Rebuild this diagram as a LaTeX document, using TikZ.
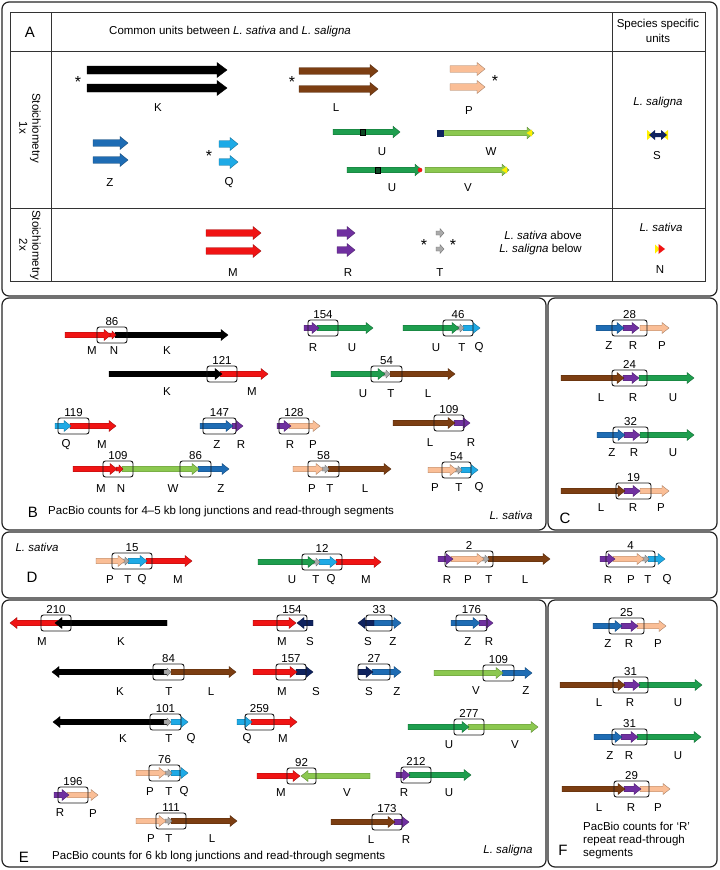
\documentclass[tikz,border=0pt]{standalone}
\usepackage{fontspec}
\setmainfont{Liberation Sans}
\definecolor{cK}{RGB}{0,0,0}
\definecolor{cL}{RGB}{124,62,18}
\definecolor{cP}{RGB}{250,190,150}
\definecolor{cZ}{RGB}{30,108,180}
\definecolor{cQ}{RGB}{30,170,230}
\definecolor{cU}{RGB}{30,158,78}
\definecolor{cV}{RGB}{140,200,80}
\definecolor{cM}{RGB}{240,20,20}
\definecolor{cR}{RGB}{112,48,160}
\definecolor{cT}{RGB}{170,170,170}
\definecolor{cS}{RGB}{15,35,95}
\definecolor{cY}{RGB}{255,240,0}
\newcounter{nn}
\def\sh{2.8}\def\hh{5.5}\def\hl{7}
\newcommand\barr[4]{%
 \pgfmathsetmacro\bdir{(#2>#1)?1:-1}%
 \pgfmathsetmacro\bhx{#2-\bdir*\hl}%
 \draw[fill=#4,draw=#4!65!black,line width=0.35pt,line join=miter] (#1,#3-\sh) -- (\bhx,#3-\sh) -- (\bhx,#3-\hh) -- (#2,#3) -- (\bhx,#3+\hh) -- (\bhx,#3+\sh) -- (#1,#3+\sh) -- cycle;}
\newcommand\tarr[2]{\begingroup\def\sh{2}\def\hh{4}\def\hl{4}\barr{#1}{#1+7}{#2}{cT}\endgroup}
\newcommand\narr[2]{\begingroup\def\sh{2}\def\hh{4.2}\def\hl{4}\barr{#1}{#1+7}{#2}{cM}\endgroup}
\newcommand\lab[3]{\stepcounter{nn}\node[lab] (t\thenn) at (#1,#2) {#3};}
\newcommand\jb[4]{\stepcounter{nn}\draw[jbox] (#1,#3-8) rectangle (#2,#3+8);
 \node[lab,anchor=south] (c\thenn) at ({(#1+#2)/2},#3-9.3) {#4};}
\tikzset{
 lab/.style={font=\fontsize{11.5}{13}\selectfont,inner sep=0pt},
 big/.style={font=\fontsize{15}{17}\selectfont,inner sep=0pt},
 jbox/.style={draw=black!90,line width=0.9pt,rounded corners=2.5pt},
 panel/.style={draw=black!85,line width=1.2pt,rounded corners=7pt},
 grid/.style={draw=black!80,line width=0.9pt}
}
\begin{document}
\begin{tikzpicture}[x=1pt,y=-1pt]
\useasboundingbox[fill=white] (0,0) rectangle (720,870);
% panels
\draw[panel] (2,2) rectangle (717,296);
\draw[panel] (2,298) rectangle (546,530);
\draw[panel] (548,298) rectangle (717,530);
\draw[panel] (2,532) rectangle (717,598);
\draw[panel] (2,600) rectangle (546,867);
\draw[panel] (548,600) rectangle (717,867);
% ===== Panel A table
\draw[grid] (10,12) rectangle (705,281);
\draw[grid] (10,51) -- (705,51);
\draw[grid] (10,208) -- (705,208);
\draw[grid] (51,12) -- (51,281);
\draw[grid] (612,12) -- (612,281);
\node[big] (pA) at (30,32) {A};
\node[lab,anchor=west] (hdr) at (109,32) {Common units between \textit{L. sativa} and \textit{L. saligna}};
\node[lab,align=center] (hdr2) at (658,31) {Species specific\\[2pt]units};
\node[lab,align=center,rotate=-90] (row1) at (30,128) {Stoichiometry\\1x};
\node[lab,align=center,rotate=-90] (row2) at (30,245) {Stoichiometry\\2x};
% K L P
\begingroup\def\sh{4}\def\hh{7.5}\def\hl{10}
\barr{87}{227}{70}{cK}\barr{87}{227}{88}{cK}
\endgroup
\begingroup\def\sh{3.3}\def\hh{6.5}\def\hl{8}
\barr{299}{378}{71}{cL}\barr{299}{378}{89}{cL}
\barr{450}{485}{69}{cP}\barr{450}{485}{87}{cP}
\barr{93}{128}{143}{cZ}\barr{93}{128}{160}{cZ}
\barr{219}{238}{144}{cQ}\barr{219}{238}{162}{cQ}
\barr{206}{261}{233}{cM}\barr{206}{261}{251}{cM}
\barr{337}{355}{233}{cR}\barr{337}{355}{250}{cR}
\endgroup
\begingroup\def\sh{2.8}\def\hh{5.8}\def\hl{7}
\barr{333}{400}{132}{cU}
\barr{438}{534}{133}{cV}
\barr{347}{422}{170}{cU}
\barr{425}{509}{170}{cV}
\endgroup
\draw[fill=cU!45!black,line width=0.3pt] (360,129) rectangle (365,135.5);
\draw[fill=cU!45!black,line width=0.3pt] (375,167) rectangle (380,173.5);
\fill[cS] (437,129.5) rectangle (444,136.5);
\fill[cY] (526.5,133) -- (532,129.5) -- (532,136.5) -- cycle;
\fill[cY] (501.5,170) -- (507,166.5) -- (507,173.5) -- cycle;
\fill[cM] (420,170) circle (2.3);
\begingroup\def\sh{2}\def\hh{4.5}\def\hl{4}
\barr{436}{444}{233}{cT}\barr{436}{444}{249}{cT}
\endgroup
% S symbol
\fill[cY] (647,130) -- (647,140) -- (653,135) -- cycle;
\fill[cY] (668,130) -- (668,140) -- (662,135) -- cycle;
\fill[cS] (649,135) -- (655,130) -- (655,133) -- (661,133) -- (661,130) -- (667,135) -- (661,140) -- (661,137) -- (655,137) -- (655,140) -- cycle;
% N symbol
\fill[cY] (655,244.5) -- (655,253.5) -- (660,249) -- cycle;
\fill[cM] (658.5,244) -- (665,249) -- (658.5,254) -- cycle;
% asterisks
\lab{78}{82}{\fontsize{16}{16}\selectfont *}
\lab{292}{82}{\fontsize{16}{16}\selectfont *}
\lab{495}{81}{\fontsize{16}{16}\selectfont *}
\lab{209}{156}{\fontsize{16}{16}\selectfont *}
\lab{424}{245}{\fontsize{16}{16}\selectfont *}
\lab{453}{245}{\fontsize{16}{16}\selectfont *}
% A labels
\lab{158}{108}{K}\lab{336}{108}{L}\lab{469}{111}{P}
\lab{110}{183}{Z}\lab{229}{183}{Q}
\lab{382}{152}{U}\lab{491}{152}{W}
\lab{392}{188}{U}\lab{468}{188}{V}
\lab{233}{273}{M}\lab{348}{273}{R}\lab{440}{273}{T}
\lab{658}{103}{\textit{L. saligna}}\lab{657}{156}{S}
\lab{661}{227}{\textit{L. sativa}}\lab{660}{270}{N}
\node[lab,anchor=east] (abv) at (582,235) {\textit{L. sativa} above};
\node[lab,anchor=east] (blw) at (582,250) {\textit{L. saligna} below};
% ===== Panel B
\barr{115}{228}{335}{cK}\narr{109}{335}\barr{65}{111}{335}{cM}
\jb{97}{127}{335}{86}
\lab{92}{351}{M}\lab{114}{351}{N}\lab{167}{351}{K}
\barr{220}{268}{374}{cM}\barr{109}{222}{374}{cK}
\jb{207}{237}{374}{121}
\lab{167}{392}{K}\lab{252}{392}{M}
\barr{317}{373}{328}{cU}\barr{304}{319}{328}{cR}
\jb{308}{338}{328}{154}
\lab{313}{348}{R}\lab{352}{348}{U}
\barr{463}{480}{328}{cQ}\tarr{457}{328}\barr{403}{459}{328}{cU}
\jb{443}{473}{328}{46}
\lab{436}{348}{U}\lab{462}{348}{T}\lab{479}{348}{Q}
\barr{390}{455}{374}{cL}\tarr{383}{374}\barr{331}{385}{374}{cU}
\jb{371}{402}{374}{54}
\lab{363}{394}{U}\lab{391}{394}{T}\lab{428}{394}{L}
\barr{70}{116}{426}{cM}\barr{55}{71}{426}{cQ}
\jb{58}{89}{426}{119}
\lab{66}{445}{Q}\lab{102}{445}{M}
\barr{232}{243}{426}{cR}\barr{200}{233}{426}{cZ}
\jb{203}{236}{426}{147}
\lab{217}{445}{Z}\lab{241}{445}{R}
\barr{289}{320}{426}{cP}\barr{277}{291}{426}{cR}
\jb{279}{309}{426}{128}
\lab{290}{445}{R}\lab{313}{445}{P}
\barr{454}{470}{423}{cR}\barr{393}{455}{423}{cL}
\jb{434}{464}{423}{109}
\lab{430}{443}{L}\lab{471}{443}{R}
\barr{198}{229}{469}{cZ}\barr{122}{199}{469}{cV}\narr{116}{469}\barr{73}{117}{469}{cM}
\jb{103}{133}{469}{109}\jb{180}{211}{469}{86}
\lab{101}{489}{M}\lab{121}{489}{N}\lab{173}{489}{W}\lab{221}{489}{Z}
\barr{328}{391}{469}{cL}\tarr{322}{469}\barr{293}{323}{469}{cP}
\jb{308}{339}{469}{58}
\lab{312}{489}{P}\lab{330}{489}{T}\lab{365}{489}{L}
\barr{461}{478}{470}{cQ}\tarr{455}{470}\barr{428}{457}{470}{cP}
\jb{442}{471}{470}{54}
\lab{435}{488}{P}\lab{459}{488}{T}\lab{479}{488}{Q}
\node[big] (pB) at (33,512) {B};
\node[lab,anchor=west] (capB) at (48,512) {PacBio counts for 4–5 kb long junctions and read-through segments};
\lab{511}{515}{\textit{L. sativa}}
% ===== Panel C
\barr{640}{669}{328}{cP}\barr{623}{639}{328}{cR}\barr{596}{624}{328}{cZ}
\jb{612}{647}{328}{28}
\lab{609}{346}{Z}\lab{633}{346}{R}\lab{662}{346}{P}
\barr{639}{694}{378}{cU}\barr{623}{639}{378}{cR}\barr{561}{624}{378}{cL}
\jb{612}{647}{378}{24}
\lab{601}{398}{L}\lab{633}{398}{R}\lab{673}{398}{U}
\barr{640}{694}{435}{cU}\barr{624}{640}{435}{cR}\barr{597}{625}{435}{cZ}
\jb{613}{648}{435}{32}
\lab{612}{453}{Z}\lab{634}{453}{R}\lab{673}{453}{U}
\barr{640}{669}{491}{cP}\barr{624}{640}{491}{cR}\barr{561}{625}{491}{cL}
\jb{616}{651}{491}{19}
\lab{601}{508}{L}\lab{633}{508}{R}\lab{661}{508}{P}
\node[big] (pC) at (565,518) {C};
% ===== Panel D
\lab{37}{547}{\textit{L. sativa}}
\node[big] (pD) at (32,577) {D};
\barr{146}{192}{561}{cM}\barr{128}{147}{561}{cQ}\tarr{122}{561}\barr{96}{125}{561}{cP}
\jb{112}{152}{561}{15}
\lab{110}{580}{P}\lab{128}{580}{T}\lab{142}{580}{Q}\lab{178}{580}{M}
\barr{336}{381}{562}{cM}\barr{319}{337}{562}{cQ}\tarr{313}{562}\barr{258}{315}{562}{cU}
\jb{302}{342}{562}{12}
\lab{292}{580}{U}\lab{316}{580}{T}\lab{331}{580}{Q}\lab{366}{580}{M}
\barr{488}{550}{559}{cL}\tarr{482}{559}\barr{451}{484}{559}{cP}\barr{438}{453}{559}{cR}
\jb{445}{493}{559}{2}
\lab{447}{580}{R}\lab{468}{580}{P}\lab{489}{580}{T}\lab{525}{580}{L}
\barr{648}{665}{559}{cQ}\tarr{642}{559}\barr{613}{644}{559}{cP}\barr{600}{615}{559}{cR}
\jb{606}{655}{559}{4}
\lab{608}{580}{R}\lab{631}{580}{P}\lab{648}{580}{T}\lab{667}{580}{Q}
% ===== Panel E
\barr{58}{10}{623}{cM}\barr{167}{55}{623}{cK}
\jb{41}{71}{623}{210}
\lab{42}{642}{M}\lab{121}{642}{K}
\barr{171}{236}{672}{cL}\barr{167}{52}{672}{cK}\tarr{164}{672}
\jb{153}{184}{672}{84}
\lab{120}{692}{K}\lab{169}{692}{T}\lab{211}{692}{L}
\barr{171}{188}{722}{cQ}\barr{167}{53}{722}{cK}\tarr{164}{722}
\jb{150}{181}{722}{101}
\lab{123}{739}{K}\lab{169}{739}{T}\lab{191}{739}{Q}
\barr{251}{297}{722}{cM}\barr{237}{252}{722}{cQ}
\jb{245}{274}{722}{259}
\lab{247}{739}{Q}\lab{283}{739}{M}
\barr{253}{296}{623}{cM}\barr{313}{297}{623}{cS}
\jb{277}{307}{623}{154}
\lab{282}{642}{M}\lab{310}{642}{S}
\barr{296}{313}{672}{cS}\barr{253}{297}{672}{cM}
\jb{276}{306}{672}{157}
\lab{282}{692}{M}\lab{316}{692}{S}
\barr{372}{401}{623}{cZ}\barr{374}{358}{623}{cS}
\jb{366}{392}{623}{33}
\lab{368}{642}{S}\lab{393}{642}{Z}
\barr{372}{401}{672}{cZ}\barr{358}{373}{672}{cS}
\jb{358}{390}{672}{27}
\lab{369}{692}{S}\lab{397}{692}{Z}
\barr{479}{493}{623}{cR}\barr{451}{480}{623}{cZ}
\jb{456}{487}{623}{176}
\lab{468}{642}{Z}\lab{489}{642}{R}
\barr{502}{532}{673}{cZ}\barr{434}{503}{673}{cV}
\jb{483}{514}{673}{109}
\lab{476}{691}{V}\lab{526}{691}{Z}
\barr{468}{538}{727}{cV}\barr{408}{469}{727}{cU}
\jb{454}{484}{727}{277}
\lab{449}{745}{U}\lab{515}{745}{V}
\barr{171}{188}{773}{cQ}\tarr{165}{773}\barr{136}{166}{773}{cP}
\jb{149}{180}{773}{76}
\lab{150}{792}{P}\lab{169}{792}{T}\lab{184}{792}{Q}
\barr{67}{98}{795}{cP}\barr{54}{69}{795}{cR}
\jb{58}{88}{795}{196}
\lab{60}{813}{R}\lab{93}{814}{P}
\barr{171}{237}{821}{cL}\tarr{165}{821}\barr{136}{166}{821}{cP}
\jb{156}{186}{821}{111}
\lab{151}{839}{P}\lab{169}{839}{T}\lab{212}{839}{L}
\barr{257}{300}{776}{cM}\barr{370}{301}{776}{cV}
\jb{287}{316}{776}{92}
\lab{281}{793}{M}\lab{347}{793}{V}
\barr{409}{471}{775}{cU}\barr{396}{410}{775}{cR}
\jb{401}{431}{775}{212}
\lab{404}{793}{R}\lab{449}{793}{U}
\barr{394}{409}{822}{cR}\barr{331}{395}{822}{cL}
\jb{372}{402}{822}{173}
\lab{371}{840}{L}\lab{406}{840}{R}
\node[big] (pE) at (24,857) {E};
\node[lab,anchor=west] (capE) at (52,857) {PacBio counts for 6 kb long junctions and read-through segments};
\lab{508}{851}{\textit{L. saligna}}
% ===== Panel F
\barr{637}{666}{626}{cP}\barr{621}{638}{626}{cR}\barr{593}{622}{626}{cZ}
\jb{609}{644}{626}{25}
\lab{608}{644}{Z}\lab{629}{644}{R}\lab{658}{644}{P}
\barr{639}{702}{685}{cU}\barr{624}{640}{685}{cR}\barr{560}{625}{685}{cL}
\jb{613}{648}{685}{31}
\lab{599}{703}{L}\lab{630}{703}{R}\lab{678}{703}{U}
\barr{637}{701}{737}{cU}\barr{621}{638}{737}{cR}\barr{594}{622}{737}{cZ}
\jb{612}{647}{737}{31}
\lab{610}{756}{Z}\lab{629}{756}{R}\lab{678}{756}{U}
\barr{640}{670}{789}{cP}\barr{624}{641}{789}{cR}\barr{562}{625}{789}{cL}
\jb{614}{649}{789}{29}
\lab{599}{808}{L}\lab{631}{808}{R}\lab{658}{808}{P}
\node[big] (pF) at (563,850) {F};
\node[lab,anchor=north west,align=left] (capF) at (583,822) {PacBio counts for ‘R’\\[0pt]repeat read-through\\[0pt]segments};
\end{tikzpicture}
\end{document}
